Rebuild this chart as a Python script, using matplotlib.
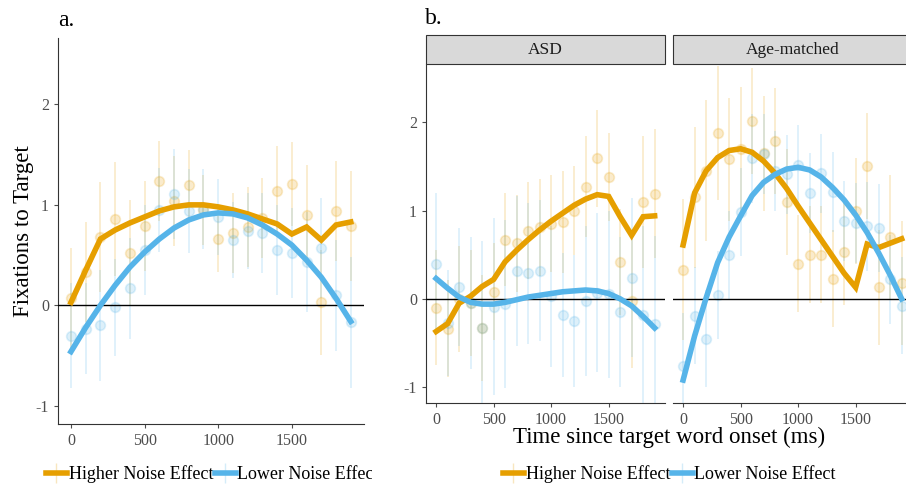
import numpy as np
import matplotlib
matplotlib.use("Agg")
import matplotlib.pyplot as plt
from matplotlib.lines import Line2D
from matplotlib.patches import Rectangle
from matplotlib.transforms import Bbox, TransformedBbox

plt.rcParams['font.family'] = ['Liberation Serif', 'DejaVu Serif']
plt.rcParams['axes.unicode_minus'] = False

# time bins (ms)
time = np.arange(0, 2000, 100)

# ---- panel a: all participants ----
a_hi_pts = [0.07, 0.33, 0.68, 0.86, 0.52, 0.79, 1.24, 1.04, 1.20, 0.95,
            0.66, 0.72, 0.78, 0.87, 1.14, 1.21, 0.90, 0.03, 0.94, 0.79]
a_hi_err = [0.50, 0.50, 0.55, 0.57, 0.53, 0.45, 0.40, 0.45, 0.35, 0.35,
            0.33, 0.40, 0.40, 0.40, 0.45, 0.42, 0.50, 0.52, 0.50, 0.55]
a_lo_pts = [-0.30, -0.23, -0.20, -0.02, 0.17, 0.55, 0.95, 1.11, 0.94, 0.96,
            0.88, 0.65, 0.74, 0.72, 0.55, 0.52, 0.43, 0.57, 0.10, -0.17]
a_lo_err = [0.52, 0.45, 0.55, 0.48, 0.50, 0.45, 0.42, 0.45, 0.42, 0.40,
            0.38, 0.38, 0.38, 0.40, 0.45, 0.45, 0.50, 0.50, 0.55, 0.65]
a_hi_fit = [0.03, 0.35, 0.66, 0.75, 0.82, 0.88, 0.94, 0.98, 1.00, 1.00,
            0.98, 0.95, 0.91, 0.86, 0.81, 0.71, 0.78, 0.65, 0.80, 0.83]
a_lo_fit = [-0.46, -0.22, 0.00, 0.20, 0.38, 0.53, 0.66, 0.77, 0.85, 0.90,
            0.92, 0.91, 0.87, 0.80, 0.71, 0.60, 0.45, 0.28, 0.07, -0.16]

# ---- panel b: ASD ----
asd_hi_pts = [-0.10, -0.34, 0.00, -0.05, -0.33, 0.08, 0.67, 0.63, 0.77, 0.81,
              0.85, 0.87, 1.00, 1.27, 1.59, 1.38, 0.42, -0.03, 1.10, 1.19]
asd_hi_err = [0.65, 0.55, 0.60, 0.60, 0.60, 0.55, 0.53, 0.55, 0.55, 0.55,
              0.55, 0.58, 0.50, 0.57, 0.55, 0.50, 0.60, 0.75, 0.75, 0.73]
asd_lo_pts = [0.40, -0.27, 0.13, -0.05, -0.33, -0.09, -0.06, 0.31, 0.29, 0.32,
              0.03, -0.18, -0.25, -0.02, 0.07, 0.05, -0.15, 0.24, -0.18, -0.29]
asd_lo_err = [0.80, 0.60, 0.67, 0.75, 0.98, 1.00, 0.95, 0.85, 0.80, 0.80,
              0.80, 0.70, 0.75, 0.85, 0.90, 0.95, 0.85, 0.90, 1.00, 1.00]
asd_hi_fit = [-0.37, -0.28, -0.05, 0.03, 0.14, 0.22, 0.42, 0.55, 0.67, 0.78,
              0.88, 0.97, 1.06, 1.13, 1.18, 1.16, 0.93, 0.72, 0.93, 0.94]
asd_lo_fit = [0.23, 0.12, 0.02, -0.04, -0.06, -0.06, -0.04, -0.01, 0.02, 0.04,
              0.06, 0.08, 0.09, 0.10, 0.09, 0.06, 0.00, -0.08, -0.20, -0.33]

# ---- panel b: Age-matched ----
age_hi_pts = [0.33, 1.15, 1.45, 1.88, 1.58, 1.70, 2.01, 1.65, 1.79, 1.10,
              0.40, 0.50, 0.50, 0.23, 0.53, 1.00, 1.50, 0.13, 0.70, 0.18]
age_hi_err = [0.80, 0.80, 0.80, 0.76, 0.70, 0.70, 0.60, 0.65, 0.60, 0.60,
              0.55, 0.55, 0.55, 0.55, 0.60, 0.60, 0.60, 0.65, 0.70, 0.70]
age_lo_pts = [-0.76, -0.19, -0.45, 0.04, 0.50, 0.98, 1.59, 1.64, 1.45, 1.41,
              1.52, 1.20, 1.42, 1.21, 0.88, 0.86, 0.82, 0.80, 0.22, -0.08]
age_lo_err = [0.60, 0.55, 0.55, 0.50, 0.50, 0.50, 0.50, 0.45, 0.45, 0.45,
              0.45, 0.45, 0.45, 0.45, 0.45, 0.45, 0.50, 0.50, 0.50, 0.55]
age_hi_fit = [0.61, 1.20, 1.45, 1.60, 1.68, 1.70, 1.66, 1.56, 1.42, 1.25,
              1.05, 0.86, 0.67, 0.48, 0.29, 0.13, 0.62, 0.58, 0.63, 0.68]
age_lo_fit = [-0.92, -0.42, 0.01, 0.41, 0.70, 0.94, 1.17, 1.32, 1.41, 1.47,
              1.49, 1.46, 1.38, 1.26, 1.12, 0.95, 0.75, 0.52, 0.27, 0.00]

xticks = [0, 500, 1000, 1500]
yticks = [-1, 0, 1, 2]
xlim = (-88, 1990)
ylim = (-1.18, 2.66)

ORANGE = '#E69F00'
BLUE = '#56B4E9'
TICKCOL = '#4D4D4D'

fig = plt.figure(figsize=(9.06, 4.86), dpi=100)
W, H = 906, 486


def px_axes(x0, y0, x1, y1):
    # pixel box (top-left origin) -> figure axes
    return fig.add_axes([x0 / W, 1 - y1 / H, (x1 - x0) / W, (y1 - y0) / H])


def draw_panel(ax, hi_pts, hi_err, lo_pts, lo_err, hi_fit, lo_fit, show_y=True):
    for pts, err, col in [(hi_pts, hi_err, ORANGE), (lo_pts, lo_err, BLUE)]:
        ax.errorbar(time, pts, yerr=err, fmt='o', color=col, ms=7, alpha=0.2,
                    elinewidth=1.3, capsize=0, markeredgewidth=1.2, zorder=2)
    ax.axhline(0, color='black', lw=1.0, zorder=3)
    ax.plot(time, hi_fit, color=ORANGE, lw=4, solid_joinstyle='miter', zorder=4)
    ax.plot(time, lo_fit, color=BLUE, lw=4, zorder=4)
    ax.set_xlim(*xlim)
    ax.set_ylim(*ylim)
    ax.set_xticks(xticks)
    ax.set_yticks(yticks)
    ax.tick_params(colors=TICKCOL, labelcolor=TICKCOL, labelsize=11.5,
                   length=3, width=0.8)
    for s in ['top', 'right']:
        ax.spines[s].set_visible(False)
    ax.spines['bottom'].set_color('#333333')
    ax.spines['left'].set_color('#333333')
    if not show_y:
        ax.spines['left'].set_visible(False)
        ax.tick_params(axis='y', left=False, labelleft=False)


# panel a
ax_a = px_axes(58, 38, 364, 424)
draw_panel(ax_a, a_hi_pts, a_hi_err, a_lo_pts, a_lo_err, a_hi_fit, a_lo_fit)
ax_a.set_ylabel('Fixations to Target', fontsize=16.5, labelpad=1)
fig.text(58 / W, 1 - 21 / H, 'a.', fontsize=17, va='center', ha='left')

# panel b
ax_asd = px_axes(426, 64, 665, 403)
draw_panel(ax_asd, asd_hi_pts, asd_hi_err, asd_lo_pts, asd_lo_err, asd_hi_fit, asd_lo_fit)
ax_age = px_axes(673, 64, 912, 403)
draw_panel(ax_age, age_hi_pts, age_hi_err, age_lo_pts, age_lo_err, age_hi_fit, age_lo_fit,
           show_y=False)
fig.text(425 / W, 1 - 18 / H, 'b.', fontsize=17, va='center', ha='left')

# facet strips
for ax, lab in [(ax_asd, 'ASD'), (ax_age, 'Age-matched')]:
    pos = ax.get_position()
    h = 29 / H
    fig.add_artist(Rectangle((pos.x0, pos.y1), pos.width, h, transform=fig.transFigure,
                             facecolor='#D9D9D9', edgecolor='#333333', lw=0.8))
    fig.text(pos.x0 + pos.width / 2, pos.y1 + h / 2, lab, fontsize=12.5,
             ha='center', va='center', color='#1A1A1A')

fig.text(669 / W, 1 - 437 / H, 'Time since target word onset (ms)', fontsize=16.5,
         ha='center', va='center')


# legends
def make_handles():
    hs = []
    for col in [ORANGE, BLUE]:
        ln = Line2D([], [], color=col, lw=4)
        tick = Line2D([], [], color=col, marker='|', ms=15, alpha=0.25, ls='none')
        hs.append((tick, ln))
    return hs


labels = ['Higher Noise Effect', 'Lower Noise Effect']
for xpx, clip in [(46, 372), (503, None)]:
    leg = fig.legend(make_handles(), labels, loc='center left',
                     bbox_to_anchor=(xpx / W, 1 - 474 / H), ncol=2, frameon=False,
                     fontsize=13, handlelength=1.15, handletextpad=0.1,
                     columnspacing=0.1, borderpad=0, borderaxespad=0)
    if clip is not None:
        cb = TransformedBbox(Bbox([[0, 0], [clip / W, 1]]), fig.transFigure)
        for t in leg.get_texts():
            t.set_clip_box(cb)
            t.set_clip_on(True)

fig.savefig('out.png', dpi=100)
